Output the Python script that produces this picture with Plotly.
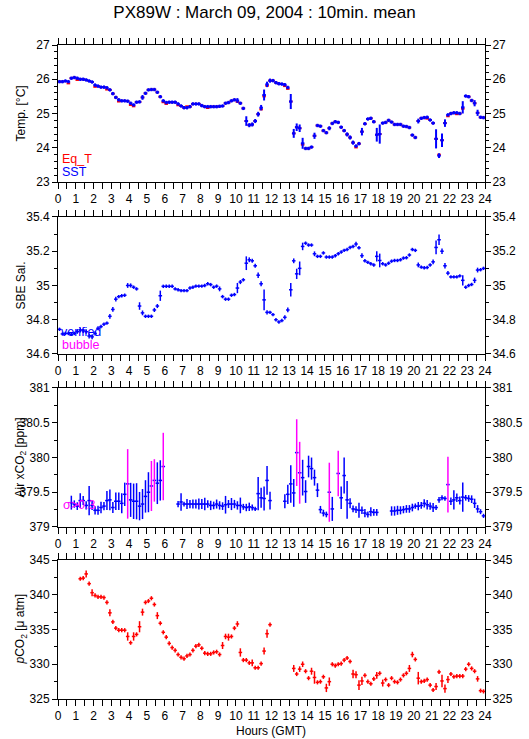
import plotly.graph_objects as go

FONT = "Liberation Sans, Arial, Helvetica, sans-serif"
RED, BLUE, MAGENTA = "#ff0000", "#0000ff", "#ff00ff"

# 10-minute bin centres (hours GMT)
hours = [(k + 0.5) / 6 for k in range(144)]
HALF_BIN = 0.1   # drawn half-width of each cross (hours)

# ---------------- Panel 1 : temperatures ----------------
sst = [
    25.93, 25.93, 25.95, 25.93, 26.03, 26.05,
    26.03, 26.00, 26.00, 25.98, 25.95, 25.92,
    25.83, 25.80, 25.77, 25.77, 25.75, 25.69,
    25.58, 25.47, 25.40, 25.37, 25.37, 25.36,
    25.30, 25.25, 25.33, 25.34, 25.47, 25.59,
    25.69, 25.70, 25.70, 25.62, 25.49, 25.37,
    25.32, 25.33, 25.33, 25.33, 25.28, 25.22,
    25.17, 25.17, 25.20, 25.28, 25.28, 25.28,
    25.23, 25.20, 25.20, 25.20, 25.20, 25.20,
    25.21, 25.22, 25.30, 25.32, 25.37, 25.40,
    25.38, 25.30, 25.15, 24.78, 24.66, 24.68,
    24.78, 24.98, 25.17, 25.54, 25.85, 25.96,
    25.96, 25.90, 25.87, 25.86, 25.84, 25.76,
    25.35, 24.42, 24.60, 24.57, 24.13, 23.98,
    23.98, 24.02, 24.35, 24.65, 24.63, 24.50,
    24.44, 24.57, 24.71, 24.76, 24.74, 24.60,
    24.50, 24.39, 24.30, 24.15, 24.05, 24.12,
    24.47, 24.70, 24.84, 24.86, 24.76, 24.38,
    24.40, 24.72, 24.74, 24.80, 24.75, 24.68,
    24.68, 24.68, 24.63, 24.62, 24.59, 24.37,
    24.30, 24.78, 24.86, 24.88, 24.89, 24.81,
    24.72, 24.26, 23.77, 24.22, 24.72, 24.96,
    25.00, 25.02, 25.02, 25.00, 25.18, 25.51,
    25.49, 25.38, 25.30, 25.02, 24.89, 24.88,
]
sst_err = [
    0.05, 0.05, 0.05, 0.05, 0.05, 0.05,
    0.05, 0.05, 0.05, 0.05, 0.05, 0.05,
    0.05, 0.05, 0.05, 0.05, 0.05, 0.05,
    0.05, 0.05, 0.05, 0.05, 0.05, 0.05,
    0.05, 0.05, 0.05, 0.05, 0.07, 0.05,
    0.05, 0.05, 0.05, 0.05, 0.05, 0.05,
    0.05, 0.05, 0.05, 0.05, 0.05, 0.05,
    0.05, 0.05, 0.05, 0.05, 0.05, 0.05,
    0.05, 0.05, 0.05, 0.05, 0.05, 0.05,
    0.05, 0.05, 0.05, 0.05, 0.05, 0.05,
    0.07, 0.05, 0.05, 0.14, 0.06, 0.06,
    0.06, 0.07, 0.08, 0.16, 0.08, 0.06,
    0.05, 0.05, 0.05, 0.05, 0.05, 0.05,
    0.22, 0.13, 0.11, 0.11, 0.16, 0.05,
    0.05, 0.05, 0.09, 0.05, 0.05, 0.05,
    0.05, 0.06, 0.05, 0.05, 0.05, 0.05,
    0.05, 0.06, 0.06, 0.06, 0.05, 0.05,
    0.11, 0.05, 0.05, 0.05, 0.05, 0.20,
    0.28, 0.05, 0.05, 0.05, 0.05, 0.05,
    0.05, 0.05, 0.05, 0.05, 0.05, 0.05,
    0.05, 0.07, 0.05, 0.05, 0.05, 0.05,
    0.05, 0.28, 0.07, 0.20, 0.11, 0.05,
    0.05, 0.05, 0.05, 0.05, 0.18, 0.05,
    0.05, 0.05, 0.09, 0.09, 0.05, 0.05,
]
eq_t = [
    25.93, 25.93, 25.95, 25.88, 26.03, 26.05,
    25.98, 26.00, 26.00, 25.98, 25.95, 25.92,
    25.78, 25.80, 25.77, 25.77, 25.70, 25.69,
    25.58, 25.47, 25.35, 25.37, 25.37, 25.36,
    25.25, 25.21, 25.33, 25.34, 25.47, 25.59,
    25.69, 25.70, 25.70, 25.62, 25.49, 25.33,
    25.28, 25.33, 25.33, 25.33, 25.24, 25.22,
    25.17, 25.21, 25.20, 25.28, 25.28, 25.28,
    25.23, 25.20, 25.16, 25.20, 25.20, 25.20,
    25.21, 25.22, 25.30, 25.32, 25.37, 25.40,
    25.34, 25.30, 25.15, 24.78, 24.66, 24.68,
    24.78, 24.98, 25.12, 25.50, 25.81, 25.96,
    25.96, 25.90, 25.87, 25.86, 25.80, 25.72,
    25.35, 24.42, 24.60, 24.57, 24.09, 23.98,
    23.98, 24.02, 24.35, 24.65, 24.63, 24.50,
    24.44, 24.57, 24.71, 24.76, 24.74, 24.60,
    24.50, 24.39, 24.30, 24.15, 24.01, 24.12,
    24.47, 24.70, 24.84, 24.86, 24.76, 24.38,
    24.40, 24.72, 24.74, 24.80, 24.75, 24.68,
    24.68, 24.68, 24.63, 24.62, 24.59, 24.37,
    24.30, 24.78, 24.86, 24.88, 24.85, 24.81,
    24.72, 24.26, 23.80, 24.22, 24.72, 24.92,
    25.00, 25.02, 24.98, 25.00, 25.14, 25.51,
    25.49, 25.38, 25.30, 25.02, 24.89, 24.88,
]

# ---------------- Panel 2 : salinity ----------------
sal = [
    34.744, 34.717, 34.720, 34.720, 34.715, 34.720,
    34.730, 34.740, 34.735, 34.730, 34.705, 34.700,
    34.720, 34.750, 34.760, 34.774, 34.780, 34.820,
    34.860, 34.920, 34.935, 34.940, 34.943, 35.000,
    35.000, 34.990, 34.980, 34.880, 34.840, 34.820,
    34.820, 34.820, 34.857, 34.880, 34.940, 34.995,
    34.995, 34.995, 34.995, 34.980, 34.975, 34.970,
    34.970, 34.970, 34.985, 34.990, 34.996, 34.996,
    34.996, 35.000, 35.010, 35.005, 34.990, 34.996,
    34.980, 34.935, 34.920, 34.920, 34.943, 34.947,
    34.985, 35.020, 35.033, 35.130, 35.150, 35.144,
    35.115, 35.060, 35.010, 34.916, 34.843, 34.843,
    34.830, 34.800, 34.787, 34.795, 34.814, 34.857,
    34.975, 35.144, 35.068, 35.100, 35.228, 35.247,
    35.236, 35.236, 35.185, 35.170, 35.170, 35.190,
    35.166, 35.166, 35.166, 35.174, 35.185, 35.195,
    35.205, 35.210, 35.222, 35.228, 35.242, 35.220,
    35.174, 35.144, 35.135, 35.127, 35.120, 35.170,
    35.146, 35.127, 35.120, 35.130, 35.142, 35.146,
    35.146, 35.150, 35.160, 35.162, 35.178, 35.210,
    35.205, 35.120, 35.107, 35.103, 35.105, 35.120,
    35.138, 35.222, 35.267, 35.200, 35.115, 35.072,
    35.050, 35.050, 35.050, 35.056, 35.030, 34.990,
    35.000, 35.006, 35.030, 35.090, 35.092, 35.100,
]
sal_err = [
    0.010, 0.010, 0.010, 0.010, 0.010, 0.010,
    0.012, 0.014, 0.012, 0.012, 0.014, 0.014,
    0.012, 0.012, 0.010, 0.010, 0.010, 0.014,
    0.014, 0.014, 0.010, 0.010, 0.010, 0.014,
    0.012, 0.010, 0.010, 0.022, 0.014, 0.010,
    0.010, 0.010, 0.012, 0.012, 0.030, 0.010,
    0.010, 0.010, 0.010, 0.010, 0.010, 0.010,
    0.010, 0.010, 0.010, 0.010, 0.010, 0.010,
    0.010, 0.010, 0.010, 0.010, 0.010, 0.010,
    0.014, 0.010, 0.010, 0.010, 0.010, 0.010,
    0.030, 0.012, 0.010, 0.040, 0.014, 0.012,
    0.012, 0.016, 0.014, 0.060, 0.012, 0.010,
    0.010, 0.010, 0.010, 0.010, 0.012, 0.014,
    0.040, 0.014, 0.030, 0.040, 0.022, 0.010,
    0.010, 0.010, 0.014, 0.010, 0.010, 0.010,
    0.010, 0.010, 0.010, 0.010, 0.010, 0.010,
    0.010, 0.010, 0.010, 0.010, 0.014, 0.010,
    0.014, 0.010, 0.010, 0.010, 0.010, 0.030,
    0.040, 0.010, 0.010, 0.010, 0.010, 0.010,
    0.010, 0.010, 0.010, 0.010, 0.010, 0.010,
    0.010, 0.014, 0.010, 0.010, 0.010, 0.010,
    0.014, 0.040, 0.030, 0.016, 0.016, 0.012,
    0.010, 0.010, 0.010, 0.010, 0.030, 0.010,
    0.010, 0.010, 0.016, 0.014, 0.010, 0.010,
]

# ---------------- Panel 3 : atmospheric xCO2 ----------------
air = [
    None, None, None, None, 379.35, 379.33,
    379.30, 379.38, 379.38, 379.31, 379.38, 379.31,
    379.24, 379.24, 379.28, 379.30, 379.38, 379.39,
    379.28, 379.37, 379.37, 379.34, 379.47, 379.62,
    379.39, 379.37, 379.37, 379.30, 379.33, 379.44,
    379.50, 379.59, 379.67, 379.63, 379.67, 379.87,
    None, None, None, None, 379.33, 379.36,
    379.33, 379.33, 379.33, 379.33, 379.33, 379.33,
    379.33, 379.33, 379.33, 379.31, 379.31, 379.33,
    379.31, 379.30, 379.32, 379.33, 379.33, 379.33,
    379.31, 379.31, 379.29, 379.28, 379.29, 379.28,
    379.26, 379.48, 379.42, 379.41, 379.67, 379.38,
    None, None, None, None, 379.37, 379.47,
    379.62, 379.49, 380.07, 379.78, 379.71, 379.51,
    379.87, 379.84, 379.71, 379.53, 379.25, 379.20,
    379.18, 379.50, 379.26, None, 379.77, 379.42,
    379.74, 379.39, 379.34, 379.26, 379.25, 379.24,
    379.24, 379.20, 379.18, 379.22, 379.21, 379.21,
    None, None, None, None, 379.23, 379.23,
    379.24, 379.24, 379.25, 379.26, 379.26, 379.28,
    379.30, 379.30, 379.31, 379.34, 379.32, 379.30,
    379.28, 379.28, 379.39, 379.42, 379.41, 379.61,
    379.37, 379.39, 379.42, 379.38, 379.43, 379.42,
    379.41, 379.40, 379.34, 379.26, 379.22, 379.16,
]
air_err = [
    None, None, None, None, 0.100, 0.053,
    0.055, 0.106, 0.065, 0.060, 0.210, 0.067,
    0.060, 0.065, 0.084, 0.058, 0.137, 0.151,
    0.079, 0.125, 0.125, 0.144, 0.168, 0.500,
    0.245, 0.255, 0.260, 0.204, 0.216, 0.233,
    0.288, 0.360, 0.305, 0.300, 0.290, 0.485,
    None, None, None, None, 0.045, 0.127,
    0.034, 0.072, 0.060, 0.065, 0.065, 0.080,
    0.072, 0.089, 0.053, 0.067, 0.055, 0.065,
    0.060, 0.055, 0.127, 0.058, 0.087, 0.060,
    0.060, 0.113, 0.043, 0.053, 0.060, 0.043,
    0.031, 0.240, 0.144, 0.173, 0.207, 0.127,
    None, None, None, None, 0.101, 0.139,
    0.270, 0.200, 0.480, 0.445, 0.257, 0.163,
    0.156, 0.159, 0.115, 0.100, 0.053, 0.048,
    0.041, 0.425, 0.173, None, 0.327, 0.161,
    0.260, 0.270, 0.072, 0.048, 0.048, 0.108,
    0.053, 0.060, 0.043, 0.065, 0.048, 0.048,
    None, None, None, None, 0.067, 0.067,
    0.065, 0.058, 0.053, 0.055, 0.055, 0.055,
    0.038, 0.060, 0.048, 0.058, 0.067, 0.053,
    0.065, 0.036, 0.043, 0.036, 0.034, 0.400,
    0.055, 0.137, 0.060, 0.058, 0.210, 0.041,
    0.048, 0.055, 0.067, 0.055, 0.036, 0.030,
]
# 1 = standard deviation above threshold (vertical bar drawn in magenta)
air_flag = [
    0, 0, 0, 0, 0, 0,
    0, 0, 0, 0, 0, 0,
    0, 0, 0, 0, 0, 0,
    0, 0, 0, 0, 0, 1,
    0, 0, 0, 0, 0, 0,
    0, 1, 1, 0, 0, 1,
    0, 0, 0, 0, 0, 0,
    0, 0, 0, 0, 0, 0,
    0, 0, 0, 0, 0, 0,
    0, 0, 0, 0, 0, 0,
    0, 0, 0, 0, 0, 0,
    0, 0, 0, 0, 0, 0,
    0, 0, 0, 0, 0, 0,
    0, 0, 1, 1, 0, 0,
    0, 0, 0, 0, 0, 0,
    0, 1, 0, 0, 1, 0,
    0, 0, 0, 0, 0, 0,
    0, 0, 0, 0, 0, 0,
    0, 0, 0, 0, 0, 0,
    0, 0, 0, 0, 0, 0,
    0, 0, 0, 0, 0, 0,
    0, 0, 0, 0, 0, 1,
    0, 0, 0, 0, 0, 0,
    0, 0, 0, 0, 0, 0,
]

# ---------------- Panel 4 : seawater pCO2 ----------------
pco2 = [
    None, None, None, None, None, None,
    None, 342.3, 342.4, 343.0, 341.6, 340.3,
    339.9, 339.7, 339.7, 339.6, 338.9, 337.4,
    336.1, 335.2, 334.9, 334.9, 334.9, 334.0,
    333.1, 334.0, 334.3, 335.4, 337.5, 338.9,
    339.1, 339.5, 338.6, 337.0, 335.9, 334.6,
    333.9, 333.0, 332.4, 332.0, 331.4, 331.0,
    330.8, 331.2, 331.4, 332.0, 332.6, 332.8,
    332.3, 331.6, 331.5, 331.5, 331.7, 331.8,
    331.4, 332.7, 334.0, 333.9, 334.0, 335.2,
    335.8, 331.7, 330.6, 330.6, 330.2, 330.2,
    329.5, 329.5, 330.1, 331.9, 334.4, 335.7,
    None, None, None, None, None, None,
    None, 329.4, 328.6, 329.3, 330.0, 329.0,
    328.0, 329.0, 328.1, 327.4, 327.5, 328.2,
    326.6, 327.5, 330.0, 329.8, 330.0, 330.1,
    330.6, 330.9, 330.4, 328.6, 328.5, 327.0,
    327.6, 328.4, 327.5, 327.2, 327.9, 328.4,
    328.7, 327.3, 327.8, 327.0, 328.0, 327.5,
    327.4, 327.8, 328.4, 328.7, 329.4, 331.4,
    330.7, 328.0, 327.5, 327.6, 327.8, 327.0,
    326.3, 326.8, 328.9, 327.6, 326.5, 327.8,
    328.6, 328.2, 328.3, 328.3, 328.3, 329.3,
    330.0, 329.4, 329.0, 327.9, 326.2, 326.1,
]
pco2_err = [
    None, None, None, None, None, None,
    None, 0.3, 0.3, 0.5, 0.3, 0.5,
    0.3, 0.3, 0.3, 0.3, 0.3, 0.5,
    0.3, 0.3, 0.3, 0.3, 0.3, 0.6,
    0.3, 0.6, 0.3, 0.8, 0.5, 0.3,
    0.3, 0.3, 0.3, 0.5, 0.3, 0.3,
    0.3, 0.3, 0.3, 0.3, 0.3, 0.3,
    0.3, 0.3, 0.3, 0.3, 0.3, 0.3,
    0.3, 0.3, 0.3, 0.3, 0.3, 0.3,
    0.3, 0.5, 0.4, 0.5, 0.3, 0.3,
    0.4, 0.6, 0.3, 0.3, 0.3, 0.5,
    0.3, 0.3, 0.3, 0.5, 0.6, 0.3,
    None, None, None, None, None, None,
    None, 0.5, 0.3, 0.4, 0.4, 0.3,
    0.3, 0.5, 0.9, 0.3, 0.3, 0.3,
    0.6, 0.6, 0.3, 0.3, 0.3, 0.3,
    0.3, 0.3, 0.3, 0.6, 0.5, 0.7,
    0.6, 0.3, 0.3, 0.3, 0.3, 0.5,
    0.3, 0.5, 0.3, 0.3, 0.3, 0.3,
    0.3, 0.3, 0.3, 0.3, 0.5, 0.4,
    0.3, 0.9, 0.3, 0.3, 0.3, 0.3,
    0.3, 0.5, 0.3, 0.9, 0.6, 0.5,
    0.3, 0.3, 0.3, 0.3, 0.3, 0.3,
    0.3, 0.3, 0.3, 0.4, 0.3, 0.3,
]

# ---------------- axis settings ----------------
panel_ranges = [(23, 27), (34.6, 35.4), (379, 381), (325, 345)]
panel_dtick = [1, 0.2, 0.5, 5]
panel_minor = [0.2, 0.1, 0.25, 2.5]
panel_domains = [(0.7537, 0.9391), (0.5210, 0.7064), (0.2869, 0.4750), (0.0541, 0.2422)]
panel_titles = ["Temp. [°C]", "SBE Sal.", "Air xCO<sub>2</sub> [ppm]", "<i>p</i>CO<sub>2</sub> [μ atm]"]
LINE_W = 1.5


def crosses(x, y, err, color, n, show_h=True, show_v=True, thick=LINE_W):
    return go.Scatter(
        x=x, y=y, mode="markers",
        marker=dict(size=1, color=color),
        error_x=dict(type="constant", value=HALF_BIN, symmetric=True, color=color,
                     thickness=thick, width=0, visible=show_h),
        error_y=dict(type="data", array=err, symmetric=True, color=color,
                     thickness=thick, width=0, visible=show_v),
        xaxis="x" if n == 1 else f"x{n}", yaxis="y" if n == 1 else f"y{n}",
        showlegend=False, hoverinfo="skip",
    )


fig = go.Figure()
# panel 1 (Eq_T underneath, mostly hidden by SST)
fig.add_trace(crosses(hours, eq_t, [0] * len(eq_t), RED, 1, show_v=False, thick=2))
fig.add_trace(crosses(hours, sst, sst_err, BLUE, 1, thick=2))
# panel 2
fig.add_trace(crosses(hours, sal, sal_err, BLUE, 2))
# panel 3
air_err_ok = [(0 if f else e) for e, f in zip(air_err, air_flag)]
fig.add_trace(crosses(hours, air, air_err_ok, BLUE, 3))
fx = [h for h, f in zip(hours, air_flag) if f]
fy = [v for v, f in zip(air, air_flag) if f]
fe = [e for e, f in zip(air_err, air_flag) if f]
fig.add_trace(crosses(fx, fy, fe, MAGENTA, 3, show_h=False))
# panel 4
fig.add_trace(crosses(hours, pco2, pco2_err, RED, 4))

axis_font = dict(family=FONT, size=12, color="black")
layout = dict(
    width=529, height=739,
    margin=dict(l=58, r=44, t=0, b=0),
    paper_bgcolor="white", plot_bgcolor="white",
    template="none", showlegend=False,
    font=dict(family=FONT, size=12, color="black"),
    title=dict(text="PX89W : March 09, 2004 : 10min. mean", x=0.5, xanchor="center",
               y=1 - 12 / 739, yanchor="middle", font=dict(family=FONT, size=17, color="black")),
)
for i in range(4):
    n = i + 1
    xs = "" if n == 1 else str(n)
    layout[f"xaxis{xs}"] = dict(
        domain=[0, 1], anchor=f"y{xs}", range=[0, 24], tick0=0, dtick=1,
        ticks="outside", ticklen=6, tickwidth=1, tickcolor="black",
        minor=dict(dtick=0.5, tick0=0, ticks="outside", ticklen=3, tickwidth=1, tickcolor="black"),
        showline=True, linecolor="black", linewidth=1, mirror="allticks",
        showgrid=False, zeroline=False, tickfont=axis_font, automargin=False,
    )
    common_y = dict(
        range=list(panel_ranges[i]), dtick=panel_dtick[i], tick0=panel_ranges[i][0],
        ticks="outside", ticklen=5, tickwidth=1, tickcolor="black",
        minor=dict(dtick=panel_minor[i], tick0=panel_ranges[i][0], ticks="outside",
                   ticklen=3, tickwidth=1, tickcolor="black"),
        showline=True, linecolor="black", linewidth=1,
        showgrid=False, zeroline=False, tickfont=axis_font, automargin=False,
    )
    layout[f"yaxis{xs}"] = dict(domain=list(panel_domains[i]), anchor=f"x{xs}", side="left", **common_y)
    layout[f"yaxis{n + 4}"] = dict(overlaying=f"y{xs}", anchor=f"x{xs}", side="right",
                                   ticklabelstandoff=-1, **common_y)

fig.update_layout(**layout)

# keep the right-hand axes alive with empty traces
for i in range(4):
    xs = "" if i == 0 else str(i + 1)
    fig.add_trace(go.Scatter(x=[None], y=[None], xaxis=f"x{xs}", yaxis=f"y{i + 5}",
                             showlegend=False, hoverinfo="skip"))


def px_to_paper_y(py):
    return 1 - py / 739


def px_to_paper_x(px):
    return (px - 58) / 427


annotations = []
for i in range(4):
    lo, hi = panel_domains[i]
    annotations.append(dict(text=panel_titles[i], xref="paper", yref="paper",
                            x=px_to_paper_x(21), y=(lo + hi) / 2, textangle=-90,
                            xanchor="center", yanchor="middle", showarrow=False,
                            font=dict(family=FONT, size=12, color="black")))

legend_items = [
    ("Eq_T", RED, 60, 159),
    ("SST", BLUE, 60, 172),
    ("verified", BLUE, 59, 332),
    ("bubble", MAGENTA, 60, 345),
    ("σ>0.3", MAGENTA, 61, 505),
]
for txt, col, lx, ly in legend_items:
    annotations.append(dict(text=txt, xref="paper", yref="paper", x=px_to_paper_x(lx),
                            y=px_to_paper_y(ly), xanchor="left", yanchor="middle",
                            showarrow=False, font=dict(family=FONT, size=12.5, color=col)))
annotations.append(dict(text="Hours (GMT)", xref="paper", yref="paper", x=px_to_paper_x(271),
                        y=px_to_paper_y(731), xanchor="center", yanchor="middle",
                        showarrow=False, font=dict(family=FONT, size=12, color="black")))
fig.update_layout(annotations=annotations)

# the page body's default 8px margin would push the figure off the 529x739 window
fig.write_html("out.html", config={"displayModeBar": False, "staticPlot": True},
               post_script="document.body.style.margin='0px';")
